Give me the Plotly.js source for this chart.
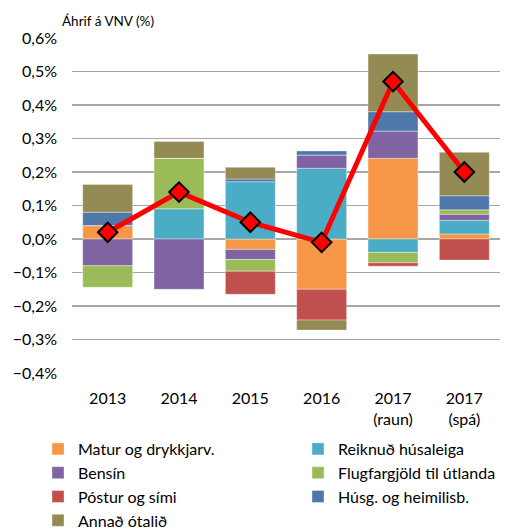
<!DOCTYPE html>
<html>
<head>
<meta charset="utf-8">
<script src="https://cdn.plot.ly/plotly-3.0.1.min.js"></script>
<style>html,body{margin:0;padding:0;background:#fff;}#chart{width:509px;height:529px;}</style>
</head>
<body>
<div id="chart"></div>
<script>
const categories = ['2013', '2014', '2015', '2016', '2017<br>(raun)', '2017<br>(spá)'];
const seriesNames = ['Matur og drykkjarv.', 'Reiknuð húsaleiga', 'Bensín', 'Flugfargjöld til útlanda', 'Póstur og sími', 'Húsg. og heimilisb.', 'Annað ótalið'];
const matur    = [0.040, 0.000, -0.031, -0.150, 0.241, 0.015];
const husaleiga= [0.000, 0.090, 0.171, 0.211, -0.040, 0.041];
const bensin   = [-0.080, -0.150, -0.030, 0.040, 0.081, 0.018];
const flug     = [-0.064, 0.151, -0.035, 0.000, -0.031, 0.013];
const postur   = [0.000, 0.000, -0.069, -0.092, -0.010, -0.063];
const husg     = [0.040, 0.000, 0.008, 0.012, 0.058, 0.042];
const annad    = [0.083, 0.050, 0.035, -0.030, 0.172, 0.130];
const vnv      = [0.02, 0.14, 0.05, -0.01, 0.47, 0.20];
const colors = ['#F79646', '#4BACC6', '#8064A2', '#9BBB59', '#C0504D', '#4F77AA', '#948A54'];
const legendColumn = ['legend', 'legend2', 'legend', 'legend2', 'legend', 'legend2', 'legend'];

const seriesValues = [matur, husaleiga, bensin, flug, postur, husg, annad];
const FONT = 'Lato, "Open Sans", sans-serif';

const traces = seriesValues.map((vals, i) => ({
  type: 'bar',
  name: seriesNames[i],
  legend: legendColumn[i],
  x: categories,
  y: vals,
  marker: {color: colors[i], line: {color: 'rgba(255,255,255,0.6)', width: 0.6}},
  hoverinfo: 'name+y'
}));
traces.push({
  type: 'scatter',
  mode: 'lines+markers',
  x: categories,
  y: vnv,
  showlegend: false,
  line: {color: '#FF0000', width: 5},
  marker: {symbol: 'diamond', size: 15, color: '#FF0000', line: {color: '#000', width: 2}}
});

const boundaryTicks = categories.map((_, i) => i - 0.5).concat([categories.length - 0.5]);

const legendBase = {
  orientation: 'v',
  xref: 'container', yref: 'container',
  xanchor: 'left', yanchor: 'top',
  traceorder: 'normal',
  font: {family: FONT, size: 16, color: '#000'},
  bgcolor: 'rgba(0,0,0,0)',
  itemclick: false
};

const layout = {
  width: 509, height: 529,
  margin: {l: 72, r: 9, t: 38, b: 156, autoexpand: false},
  paper_bgcolor: '#fff', plot_bgcolor: '#fff',
  separators: ',.',
  barmode: 'relative',
  bargap: 0.3,
  font: {family: FONT, size: 16, color: '#000'},
  title: {
    text: 'Áhrif á VNV (%)',
    font: {family: FONT, size: 13.5, color: '#000'},
    x: 62 / 509, xanchor: 'left', xref: 'container',
    y: 1 - 21 / 529, yanchor: 'middle', yref: 'container'
  },
  xaxis: {
    type: 'category',
    showgrid: false, zeroline: false, showline: false,
    ticks: '',
    ticklabelstandoff: 14,
    tickfont: {family: FONT, size: 16, color: '#000'}
  },
  xaxis2: {
    overlaying: 'x', anchor: 'free', position: 0.4,
    type: 'linear', range: [-0.5, categories.length - 0.5],
    tickmode: 'array', tickvals: boundaryTicks,
    ticks: 'outside', ticklen: 5, tickcolor: '#a0a0a0', tickwidth: 1.3,
    showticklabels: false, showgrid: false, zeroline: false,
    showline: true, linecolor: '#a0a0a0', linewidth: 1.5
  },
  yaxis: {
    range: [-0.4, 0.6],
    tick0: 0, dtick: 0.1,
    tickformat: '.1f', ticksuffix: '%',
    showgrid: true, gridcolor: '#a6a6a6', gridwidth: 1.3,
    zeroline: false, showline: false, ticks: '',
    ticklabelstandoff: 14,
    tickfont: {family: FONT, size: 16, color: '#000'}
  },
  showlegend: true,
  legend: Object.assign({}, legendBase, {x: 38 / 509, y: 1 - 432 / 529}),
  legend2: Object.assign({}, legendBase, {x: 298 / 509, y: 1 - 432 / 529})
};

Plotly.newPlot('chart', traces, layout, {displayModeBar: false, staticPlot: true});
</script>
</body>
</html>
